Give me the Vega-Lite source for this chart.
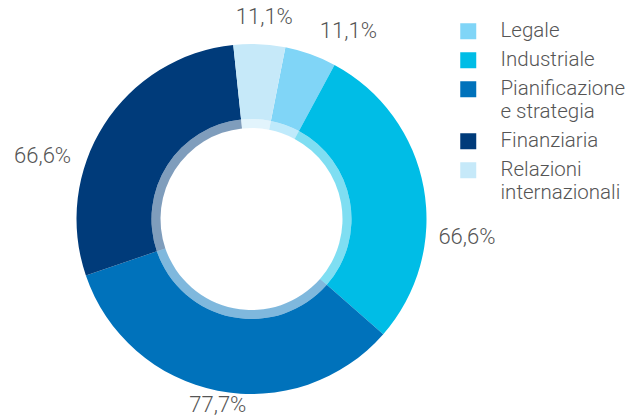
{
  "$schema": "https://vega.github.io/schema/vega-lite/v6.json",
  "width": 503,
  "height": 438,
  "autosize": "none",
  "padding": {"left": 0, "top": 0, "right": 127, "bottom": 0},
  "background": "white",
  "config": {"view": {"stroke": null}, "font": "Roboto"},
  "data": {
    "values": [
      {"area": "Legale", "value": 11.1, "label": "11,1%", "ord": 1},
      {"area": "Industriale", "value": 66.6, "label": "66,6%", "ord": 2},
      {"area": "Pianificazione e strategia", "value": 77.7, "label": "77,7%", "ord": 3},
      {"area": "Finanziaria", "value": 66.6, "label": "66,6%", "ord": 4},
      {"area": "Relazioni internazionali", "value": 11.1, "label": "11,1%", "ord": 5}
    ]
  },
  "encoding": {
    "theta": {"field": "value", "type": "quantitative", "stack": true, "scale": {"range": [0.195, 6.478]}},
    "order": {"field": "ord", "type": "quantitative"},
    "color": {
      "field": "area",
      "type": "nominal",
      "sort": ["Legale", "Industriale", "Pianificazione e strategia", "Finanziaria", "Relazioni internazionali"],
      "scale": {
        "domain": ["Legale", "Industriale", "Pianificazione e strategia", "Finanziaria", "Relazioni internazionali"],
        "range": ["#80d5f7", "#00bde6", "#0072bb", "#003b7a", "#c6e9f9"]
      },
      "legend": {
        "title": null,
        "orient": "none",
        "legendX": 458,
        "legendY": 21,
        "symbolType": "square",
        "symbolSize": 256,
        "symbolStrokeWidth": 0,
        "symbolOpacity": 1,
        "labelFont": "Roboto",
        "labelFontWeight": 300,
        "labelFontSize": 20.5,
        "labelColor": "#555555",
        "labelOffset": 22,
        "labelLimit": 300,
        "labelLineHeight": 23,
        "rowPadding": 8,
        "labelExpr": "datum.label == 'Pianificazione e strategia' ? ['Pianificazione', 'e strategia'] : datum.label == 'Relazioni internazionali' ? ['Relazioni', 'internazionali'] : datum.label"
      }
    }
  },
  "layer": [
    {"mark": {"type": "arc", "outerRadius": 175, "innerRadius": 100}},
    {"mark": {"type": "arc", "outerRadius": 100, "innerRadius": 91, "opacity": 0.5}},
    {
      "mark": {
        "type": "text",
        "radius": 0,
        "dx": {"expr": "(193 + 24 * abs(sin((((scale('theta', datum.value_start) + scale('theta', datum.value_end)) / 2) + 0.24 * sin(((scale('theta', datum.value_start) + scale('theta', datum.value_end)) / 2)) + 0.08 * sin(2 * ((scale('theta', datum.value_start) + scale('theta', datum.value_end)) / 2))))) + 8 * cos((((scale('theta', datum.value_start) + scale('theta', datum.value_end)) / 2) + 0.24 * sin(((scale('theta', datum.value_start) + scale('theta', datum.value_end)) / 2)) + 0.08 * sin(2 * ((scale('theta', datum.value_start) + scale('theta', datum.value_end)) / 2))))) * sin((((scale('theta', datum.value_start) + scale('theta', datum.value_end)) / 2) + 0.24 * sin(((scale('theta', datum.value_start) + scale('theta', datum.value_end)) / 2)) + 0.08 * sin(2 * ((scale('theta', datum.value_start) + scale('theta', datum.value_end)) / 2))))"},
        "dy": {"expr": "-(193 + 24 * abs(sin((((scale('theta', datum.value_start) + scale('theta', datum.value_end)) / 2) + 0.24 * sin(((scale('theta', datum.value_start) + scale('theta', datum.value_end)) / 2)) + 0.08 * sin(2 * ((scale('theta', datum.value_start) + scale('theta', datum.value_end)) / 2))))) + 8 * cos((((scale('theta', datum.value_start) + scale('theta', datum.value_end)) / 2) + 0.24 * sin(((scale('theta', datum.value_start) + scale('theta', datum.value_end)) / 2)) + 0.08 * sin(2 * ((scale('theta', datum.value_start) + scale('theta', datum.value_end)) / 2))))) * cos((((scale('theta', datum.value_start) + scale('theta', datum.value_end)) / 2) + 0.24 * sin(((scale('theta', datum.value_start) + scale('theta', datum.value_end)) / 2)) + 0.08 * sin(2 * ((scale('theta', datum.value_start) + scale('theta', datum.value_end)) / 2))))"},
        "fontSize": 22,
        "fontWeight": 300,
        "font": "Roboto"
      },
      "encoding": {"text": {"field": "label"}, "color": {"value": "#555555"}}
    }
  ]
}
